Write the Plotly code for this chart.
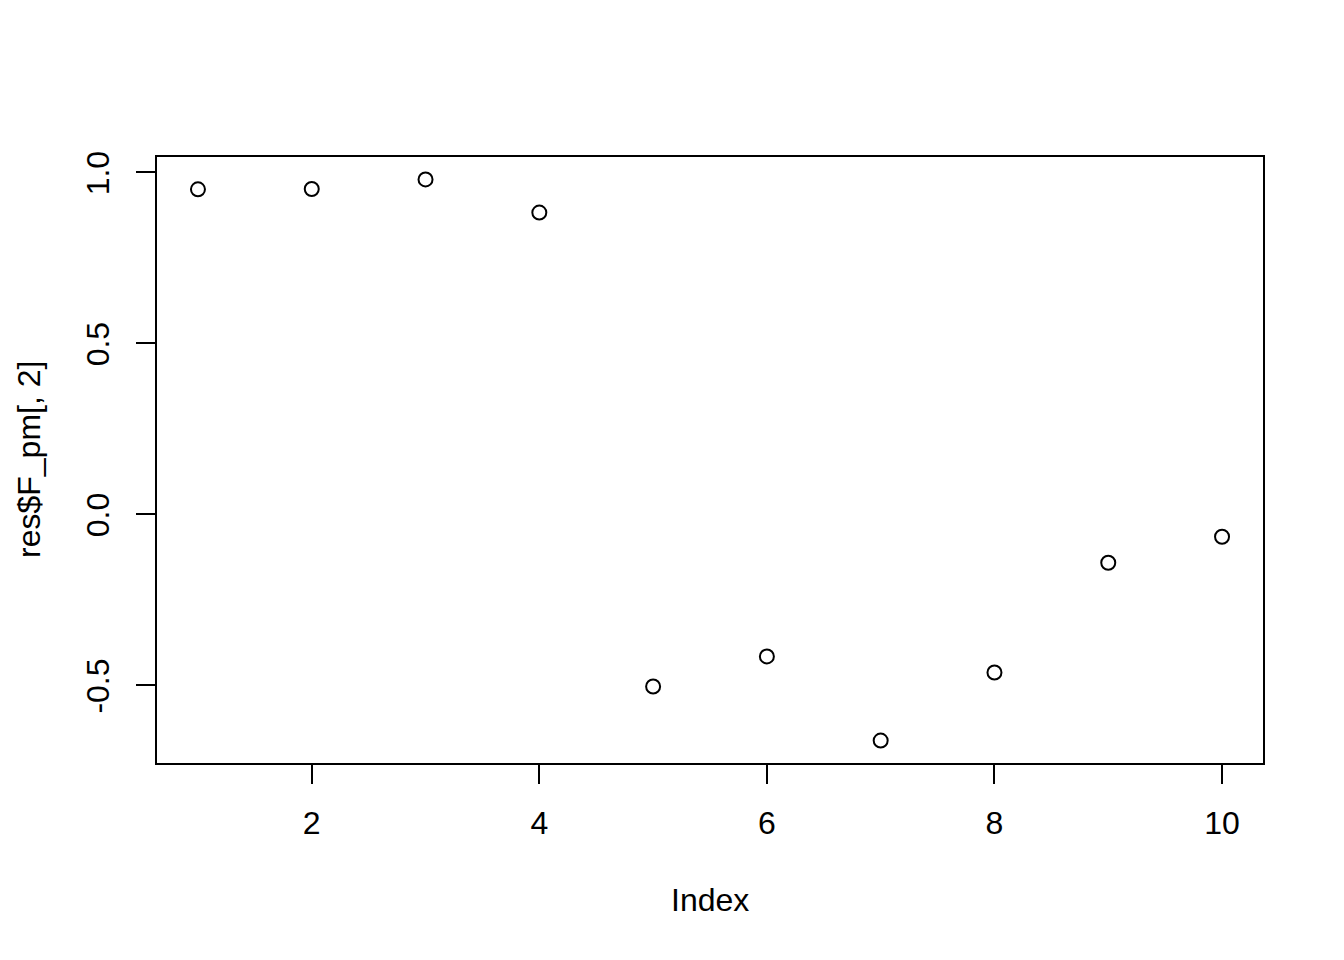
import plotly.graph_objects as go

index = [1, 2, 3, 4, 5, 6, 7, 8, 9, 10]
values = [0.949, 0.950, 0.978, 0.881, -0.505, -0.417, -0.663, -0.464, -0.143, -0.067]
x_ticks = [2, 4, 6, 8, 10]
y_ticks = [-0.5, 0.0, 0.5, 1.0]
y_ticktext = ["-0.5", "0.0", "0.5", "1.0"]

def r_range(v):
    lo, hi = min(v), max(v)
    d = (hi - lo) * 0.04
    return [lo - d, hi + d]

FONT = "Liberation Sans, Arial, sans-serif"

fig = go.Figure()
fig.add_trace(go.Scatter(
    x=index, y=values, mode="markers",
    marker=dict(symbol="circle-open", size=14, color="black", line=dict(width=2, color="black")),
    showlegend=False, hoverinfo="x+y",
))

fig.update_layout(
    width=1336, height=952,
    margin=dict(l=149, r=81, t=149, b=197),
    paper_bgcolor="white", plot_bgcolor="white",
    font=dict(family=FONT, size=32, color="black"),
    xaxis=dict(
        range=r_range(index), tickvals=x_ticks, ticktext=[str(t) for t in x_ticks],
        showgrid=False, zeroline=False, showline=True, linewidth=2, linecolor="black", mirror=True,
        ticks="outside", ticklen=19, tickwidth=2, tickcolor="black",
        tickfont=dict(family=FONT, size=32, color="black"), ticklabelstandoff=12,
    ),
    yaxis=dict(
        range=r_range(values), tickvals=y_ticks, ticktext=y_ticktext, tickangle=-90,
        showgrid=False, zeroline=False, showline=True, linewidth=2, linecolor="black", mirror=True,
        ticks="outside", ticklen=19, tickwidth=2, tickcolor="black",
        tickfont=dict(family=FONT, size=32, color="black"), ticklabelstandoff=14,
        ticklabelshift=6,
    ),
    annotations=[
        dict(text="Index", xref="paper", yref="paper", x=0.5, y=0, xanchor="center", yanchor="middle",
             yshift=-137, showarrow=False, font=dict(family=FONT, size=32, color="black")),
        dict(text="res$F_pm[, 2]", xref="paper", yref="paper", x=0, y=0.5, xanchor="center", yanchor="middle",
             xshift=-128, textangle=-90, showarrow=False, font=dict(family=FONT, size=32, color="black")),
    ],
)

fig.write_html("out.html")
